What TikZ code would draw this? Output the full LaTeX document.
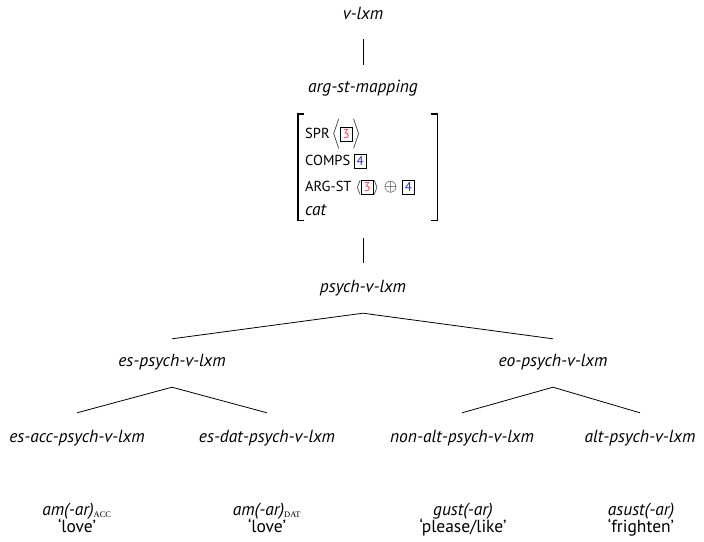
\documentclass[tikz,border=0pt]{standalone}
\usepackage{fontspec}
\setmainfont{PT Sans}
\newfontfamily\subfont{Liberation Serif}
\definecolor{tagred}{HTML}{EE4A55}
\definecolor{tagblue}{HTML}{2A2AE0}
% boxed structure-sharing tag
\newcommand\tg[2]{{\fontsize{13}{14}\selectfont\fboxsep=1.3pt\fboxrule=0.6pt\fbox{\rule[-2pt]{0pt}{11pt}\makebox[8.4pt]{\textcolor{#1}{#2}}}}}
% small-caps style subscript
\newcommand\csub[1]{\textsubscript{\subfont\upshape\fontsize{8.5}{9}\selectfont #1}}
% larger direct-sum sign
\newcommand\dsum{{\fontsize{18}{20}\selectfont$\oplus$}}
\begin{document}
\begin{tikzpicture}[x=1pt,y=-1pt,
  typ/.style={font=\fontsize{17.5}{20}\selectfont\itshape, inner sep=0pt, text height=13pt, text depth=4pt},
  gloss/.style={font=\fontsize{17.5}{20}\selectfont, inner sep=0pt, anchor=base},
  word/.style={font=\fontsize{17.5}{20}\selectfont\itshape, inner sep=0pt, anchor=base},
  feat/.style={font=\fontsize{14.5}{16}\selectfont, inner sep=0pt, anchor=base west},
  edge/.style={line width=0.8pt},
  brk/.style={line width=1.4pt}
]
\useasboundingbox (0,0) rectangle (704,541);

% type hierarchy labels
\node[typ] (vlxm)   at (363,15)  {v-lxm};
\node[typ] (argst)  at (363,88)  {arg-st-mapping};
\node[typ] (psych)  at (363,288) {psych-v-lxm};
\node[typ] (esp)    at (172,362) {es-psych-v-lxm};
\node[typ] (eop)    at (553,362) {eo-psych-v-lxm};
\node[typ] (esacc)  at (77,438)  {es-acc-psych-v-lxm};
\node[typ] (esdat)  at (267,438) {es-dat-psych-v-lxm};
\node[typ] (nonalt) at (462,438) {non-alt-psych-v-lxm};
\node[typ] (alt)    at (640,438) {alt-psych-v-lxm};

% constraint attached to arg-st-mapping
\node[inner sep=0pt, minimum width=139pt, minimum height=106pt] (avm) at (367.5,167) {};
\draw[brk] ([xshift=6pt]avm.north west) -- (avm.north west) -- (avm.south west) -- ([xshift=6pt]avm.south west);
\draw[brk] ([xshift=-6pt]avm.north east) -- (avm.north east) -- (avm.south east) -- ([xshift=-6pt]avm.south east);
\node[feat] (spr)   at (305,138) {SPR\,$\Bigg\langle$\tg{tagred}{3}$\Bigg\rangle$};
\node[feat] (comps) at (305,165) {COMPS \tg{tagblue}{4}};
\node[feat] (args)  at (305,191) {ARG-ST\hspace{4pt}$\Big\langle$\tg{tagred}{3}$\Big\rangle$\hspace{5pt}\dsum\hspace{5pt}\tg{tagblue}{4}};
\node[feat, font=\fontsize{17.5}{20}\selectfont\itshape] (cat) at (305,215) {cat};

% example verbs
\node[word]  (w1) at (77,515)  {am(-ar)\csub{ACC}};
\node[gloss] (g1) at (77,532)  {‘love’};
\node[word]  (w2) at (267,515) {am(-ar)\csub{DAT}};
\node[gloss] (g2) at (267,532) {‘love’};
\node[word]  (w3) at (463,515) {gust(-ar)};
\node[gloss] (g3) at (463,532) {‘please/like’};
\node[word]  (w4) at (641,515) {asust(-ar)};
\node[gloss] (g4) at (641,532) {‘frighten’};

% unary links
\draw[edge, shorten <=15.5pt, shorten >=14.5pt] (vlxm) -- (argst);
\coordinate (avm-b) at (avm.south -| psych.north);
\draw[edge] ([yshift=-18pt]avm-b) -- ([yshift=16pt]psych.north);

% branching links
\coordinate (psych-j) at ([yshift=-16.5pt]psych.south);
\coordinate (esp-j)   at ([yshift=-16.5pt]esp.south);
\coordinate (eop-j)   at ([yshift=-16.5pt]eop.south);
\draw[edge] ([yshift=14.5pt]esp.north) -- (psych-j) -- ([yshift=14.5pt]eop.north);
\draw[edge] ([yshift=16.5pt]esacc.north) -- (esp-j) -- ([yshift=16.5pt]esdat.north);
\draw[edge] ([yshift=16.5pt]nonalt.north) -- (eop-j) -- ([yshift=16.5pt]alt.north);
\end{tikzpicture}
\end{document}
